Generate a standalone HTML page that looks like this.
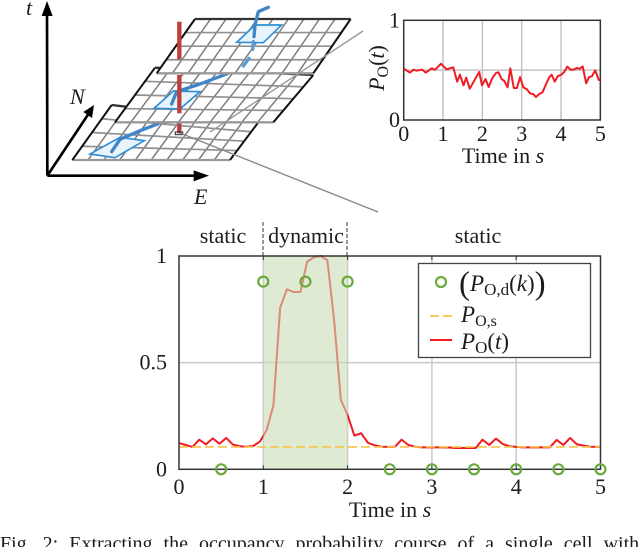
<!DOCTYPE html>
<html>
<head>
<meta charset="utf-8">
<style>
html,body{margin:0;padding:0;background:#fff;}
body{width:640px;height:547px;overflow:hidden;}
svg{display:block;}
text{font-family:"Liberation Serif",serif;fill:#1c1c1c;}
.it{font-style:italic;}
</style>
</head>
<body>
<svg id="fig" width="640" height="547" viewBox="0 0 640 547" xmlns="http://www.w3.org/2000/svg">
  <g id="scene" transform="scale(0.33333)"></g>
  <line x1="210" y1="132" x2="363" y2="31" stroke="#999" stroke-width="1.4"/>
  <line x1="180" y1="133" x2="378" y2="212" stroke="#888" stroke-width="1.4"/>
  <text class="it" x="26" y="15" font-size="22">t</text>
  <text class="it" x="70" y="104" font-size="22">N</text>
  <text class="it" x="194" y="204" font-size="22">E</text>

  <g id="inset"></g>
  <text x="503" y="163" font-size="22" text-anchor="middle">Time in <tspan class="it">s</tspan></text>
  <text transform="translate(384,68) rotate(-90)" font-size="22" text-anchor="middle"><tspan class="it">P</tspan><tspan font-size="16" dy="4">O</tspan><tspan dy="-4">(</tspan><tspan class="it">t</tspan>)</text>

  <g id="main"></g>
  <text x="223" y="243" font-size="22" text-anchor="middle">static</text>
  <text x="306" y="243" font-size="22" text-anchor="middle">dynamic</text>
  <text x="478" y="243" font-size="22" text-anchor="middle">static</text>
  <line x1="263" y1="222" x2="263" y2="256" stroke="#333" stroke-width="1" stroke-dasharray="4 2"/>
  <line x1="347" y1="222" x2="347" y2="256" stroke="#333" stroke-width="1" stroke-dasharray="4 2"/>
  <text x="390" y="517" font-size="22" text-anchor="middle">Time in <tspan class="it">s</tspan></text>

  <g>
    <rect x="418.5" y="263.5" width="172" height="94" fill="#fff" stroke="#444" stroke-width="1.3"/>
    <circle cx="441" cy="282" r="5" fill="none" stroke="#6aaa3a" stroke-width="2.2"/>
    <line x1="430" y1="316" x2="453" y2="316" stroke="#f6c445" stroke-width="1.8" stroke-dasharray="9 4"/>
    <line x1="430" y1="340" x2="452" y2="340" stroke="#f01c24" stroke-width="2"/>
    <text x="459" y="291" font-size="23"><tspan font-size="33" dy="3">(</tspan><tspan class="it" dy="-3">P</tspan><tspan font-size="17" dy="4">O,d</tspan><tspan dy="-4">(</tspan><tspan class="it">k</tspan>)<tspan font-size="33" dy="3">)</tspan></text>
    <text x="461" y="322" font-size="23"><tspan class="it">P</tspan><tspan font-size="16" dy="4">O,s</tspan></text>
    <text x="461" y="349" font-size="23"><tspan class="it">P</tspan><tspan font-size="17" dy="4">O</tspan><tspan dy="-4">(</tspan><tspan class="it">t</tspan>)</text>
  </g>

  <text x="0" y="550" font-size="20" word-spacing="6">Fig. 2: Extracting the occupancy probability course of a single cell with</text>
</svg>
<script>
// Inset chart data
const insetTimes = [0,.08,.16,.25,.33,.47,.56,.71,.80,.95,1.09,1.26,1.36,1.43,1.52,1.59,1.68,1.77,1.92,1.99,2.08,2.16,2.26,2.35,2.41,2.49,2.56,2.64,2.71,2.80,2.88,2.96,3.04,3.13,3.21,3.30,3.36,3.45,3.53,3.61,3.69,3.76,3.84,3.92,4.01,4.08,4.16,4.24,4.32,4.40,4.47,4.55,4.64,4.71,4.79,4.87,4.96,5];
const insetValues = [.518,.495,.475,.505,.495,.505,.475,.518,.505,.565,.508,.528,.385,.455,.348,.425,.314,.378,.482,.348,.411,.331,.425,.472,.478,.411,.391,.328,.518,.321,.321,.431,.328,.308,.268,.258,.231,.261,.278,.351,.421,.455,.385,.441,.455,.482,.535,.505,.505,.522,.512,.538,.368,.428,.441,.498,.401,.408];
const insetXTicks = [0,1,2,3,4,5];
const insetYTicks = [0,1];

// Main chart data
const mainTimes = [0,.08,.16,.24,.32,.40,.48,.56,.64,.72,.80,.88,.96,1.04,1.12,1.20,1.28,1.36,1.44,1.52,1.60,1.68,1.76,1.84,1.92,2.00,2.08,2.16,2.24,2.32,2.40,2.48,2.56,2.64,2.72,2.80,2.88,2.96,3.04,3.12,3.20,3.28,3.36,3.44,3.52,3.60,3.68,3.76,3.84,3.92,4.00,4.08,4.16,4.24,4.32,4.40,4.48,4.56,4.64,4.72,4.80,4.88,4.96,5];
const mainValues = [.123,.114,.105,.139,.117,.145,.12,.147,.116,.108,.106,.109,.13,.184,.30,.758,.844,.831,.831,.973,.994,1,.98,.70,.325,.255,.158,.169,.125,.1125,.106,.105,.105,.139,.114,.106,.103,.103,.103,.103,.102,.10,.10,.10,.10,.139,.114,.144,.119,.108,.105,.103,.103,.103,.103,.103,.1375,.114,.147,.117,.111,.106,.105,.105];
const staticLevel = [.105];
const sampleTimes = [.5,1,1.5,2,2.5,3,3.5,4,4.5,5];
const sampleValues = [0,.88,.88,.88,0,0,0,0,0,0];
const dynamicSpan = [1,2];
const mainXTicks = [0,1,2,3,4,5];
const mainYTicks = [0,.5,1];
const mainYTickLabels = ['0','0.5','1'];

const NS = 'http://www.w3.org/2000/svg';
function make(parent, tag, attrs, txt){
  const el = document.createElementNS(NS, tag);
  for (const k in attrs) el.setAttribute(k, attrs[k]);
  if (txt !== undefined) el.textContent = txt;
  parent.appendChild(el);
  return el;
}

// Axis functions
const mx = t => 179 + t * 84.3;
const my = v => 469.3 - v * 213.3;
const ix = t => 403.7 + t * 39.33;
const iy = v => 120 - v * 99.7;
const pts = (xs, ys, fx, fy) => xs.map((x, i) => fx(x).toFixed(2) + ',' + fy(ys[i]).toFixed(2)).join(' ');

/* ---------- Inset ---------- */
const inset = document.getElementById('inset');
insetXTicks.slice(1, -1).forEach(t => {
  const el = make(inset, 'line', {x1: ix(t), x2: ix(t), y1: iy(0), y2: iy(1), stroke: '#c4c4c4', 'stroke-width': 1.5});
  
  
});
{
  const el = make(inset, 'line', {x1: ix(0), x2: ix(5), y1: iy(.5), y2: iy(.5), stroke: '#c4c4c4', 'stroke-width': 1.5});
  
  
}
{
  const el = make(inset, 'rect', {x: ix(0), y: iy(1), width: ix(5) - ix(0), height: iy(0) - iy(1), fill: 'none', stroke: '#333', 'stroke-width': 1.5});
  
  
}
{
  const el = make(inset, 'polyline', {points: pts(insetTimes, insetValues, ix, iy), fill: 'none', stroke: '#f01c24', 'stroke-width': 2, 'stroke-linejoin': 'round'});
  
  
}
insetXTicks.forEach(t => {
  const el = make(inset, 'text', {x: ix(t), y: 141, 'font-size': 22, 'text-anchor': 'middle'}, String(t));
  
  
});
insetYTicks.forEach(v => {
  const el = make(inset, 'text', {x: 400, y: iy(v) + 7, 'font-size': 22, 'text-anchor': 'end'}, String(v));
  
  
});

/* ---------- Main ---------- */
const main = document.getElementById('main');
mainXTicks.slice(1, -1).forEach(t => {
  const el = make(main, 'line', {x1: mx(t), x2: mx(t), y1: my(0), y2: my(1), stroke: '#c9c9c9', 'stroke-width': 1.5});
  
  
});
{
  const el = make(main, 'line', {x1: mx(0), x2: mx(5), y1: my(.5), y2: my(.5), stroke: '#c9c9c9', 'stroke-width': 1.5});
  
  
}
{
  const el = make(main, 'polyline', {points: pts(mainTimes, mainValues, mx, my), fill: 'none', stroke: '#f01c24', 'stroke-width': 2, 'stroke-linejoin': 'round'});
  
  
}
{
  const el = make(main, 'rect', {x: mx(dynamicSpan[0]), y: my(1), width: mx(dynamicSpan[1]) - mx(dynamicSpan[0]), height: my(0) - my(1), fill: 'rgb(200,220,180)', 'fill-opacity': .59});
  
  
}
{
  const el = make(main, 'line', {x1: mx(0), x2: mx(5), y1: my(staticLevel[0]), y2: my(staticLevel[0]), stroke: '#f6c445', 'stroke-width': 1.6, 'stroke-dasharray': '9 4'});
  
  
}
{
  const el = make(main, 'rect', {x: mx(0), y: my(1), width: mx(5) - mx(0), height: my(0) - my(1), fill: 'none', stroke: '#333', 'stroke-width': 1.5});
  
  
}
mainXTicks.forEach(t => {
  const tick = make(main, 'line', {x1: mx(t), x2: mx(t), y1: my(1), y2: my(1) + 4, stroke: '#333', 'stroke-width': 1});
  
  
  const low = make(main, 'line', {x1: mx(t), x2: mx(t), y1: my(0), y2: my(0) - 4, stroke: '#333', 'stroke-width': 1});
  
  
  const el = make(main, 'text', {x: mx(t), y: 494, 'font-size': 22, 'text-anchor': 'middle'}, String(t));
  
  
});
mainYTicks.forEach((v, i) => {
  const el = make(main, 'text', {x: 167, y: my(v) + 7, 'font-size': 22, 'text-anchor': 'end'}, mainYTickLabels[i]);
  
  
});
sampleTimes.forEach((t, i) => {
  const el = make(main, 'circle', {cx: mx(t), cy: my(sampleValues[i]), r: 5, fill: 'none', stroke: '#6aaa3a', 'stroke-width': 2.2});
  
  
});

/* ---------- Space-time diagram ---------- */
const scene = document.getElementById('scene');
function plane(name, fl, fr, br, bl){
  const g = make(scene, 'g', {});
  
  
  make(g, 'polygon', {points: [fl, fr, br, bl].map(p => p.join(',')).join(' '), fill: '#fff'});
  const cols = 10, rows = 4;
  const mix = (a, b, u) => [a[0] + (b[0] - a[0]) * u, a[1] + (b[1] - a[1]) * u];
  for (let i = 1; i < cols; i++){
    const a = mix(fl, fr, i / cols), b = mix(bl, br, i / cols);
    make(g, 'line', {x1: a[0], y1: a[1], x2: b[0], y2: b[1], stroke: '#7d7d7d', 'stroke-width': 4.5});
  }
  for (let j = 1; j < rows; j++){
    const a = mix(fl, bl, j / rows), b = mix(fr, br, j / rows);
    make(g, 'line', {x1: a[0], y1: a[1], x2: b[0], y2: b[1], stroke: '#909090', 'stroke-width': 5});
  }
  make(g, 'line', {x1: fl[0], y1: fl[1], x2: fr[0], y2: fr[1], stroke: '#999', 'stroke-width': 7});
  make(g, 'line', {x1: bl[0], y1: bl[1], x2: br[0], y2: br[1], stroke: '#333', 'stroke-width': 7});
  make(g, 'line', {x1: fl[0], y1: fl[1], x2: bl[0], y2: bl[1], stroke: '#111', 'stroke-width': 6});
  make(g, 'line', {x1: fr[0], y1: fr[1], x2: br[0], y2: br[1], stroke: '#111', 'stroke-width': 6});
}
function patch(name, p){
  const el = make(scene, 'polygon', {points: p, fill: '#e9f3fb', stroke: '#2f8fd6', 'stroke-width': 5});
  
  
}
function bar(y1, y2){
  const el = make(scene, 'line', {x1: 538, x2: 538, y1: y1, y2: y2, stroke: '#bd3f3f', 'stroke-width': 13});
  
  
}
function track(p, dash){
  const el = make(scene, 'polyline', {points: p, fill: 'none', stroke: dash ? '#5b9bd5' : '#3f85c8', 'stroke-width': 10, 'stroke-linejoin': 'round', 'stroke-linecap': 'round'});
  
  
}

plane('grid-plane-bottom', [217,480], [690,480], [775,367], [335,315]);
patch('object-patch-bottom', '270,462 345,473 433,422 360,412');
track('473,372 420,392 360,418 335,455');
bar(368, 400);
{
  const el = make(scene, 'rect', {x: 526, y: 396, width: 22, height: 8, fill: 'none', stroke: '#222', 'stroke-width': 3});
  
  
}
track('505,348 483,368', true);
plane('grid-plane-middle', [345,367], [820,367], [940,225], [465,203]);
patch('object-patch-middle', '462,325 540,327 600,275 520,273');
track('708,205 680,222 600,252 530,275 515,312');
bar(225, 340);
plane('grid-plane-top', [470,220], [940,220], [1052,57], [585,57]);
patch('object-patch-top', '710,127 790,128 845,75 765,75');
bar(65, 178);
track('805,22 775,35 765,75 762,110');
track('760,125 758,148', true);
track('747,175 730,198', true);

function arrow(name, x1, y1, x2, y2, head){
  const g = make(scene, 'g', {});
  
  
  make(g, 'line', {x1: x1, y1: y1, x2: x2, y2: y2, stroke: '#000', 'stroke-width': 8});
  make(g, 'polygon', {points: head, fill: '#000'});
}
arrow('t-axis-arrow', 142, 527, 141, 40, '141,3 125,48 158,48');
arrow('e-axis-arrow', 142, 527, 590, 527, '627,527 581,511 581,544');
arrow('n-axis-arrow', 142, 527, 268, 338, '282,315 250,336 276,354');
</script>
</body>
</html>
